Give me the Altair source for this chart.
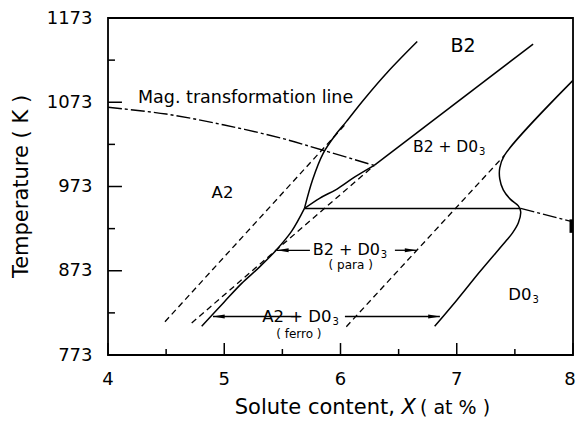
import altair as alt
import pandas as pd

FONT = "DejaVu Sans"

# ---- axis ticks ----
x_major = [4, 5, 6, 7, 8]
y_major = [773, 873, 973, 1073, 1173]
x_minor = [4.5, 5.5, 6.5, 7.5]
y_minor = [823, 923, 1023, 1123]

# ---- solid phase boundaries (x = at %, T = K) ----
a2_upper_x = [5.69, 5.76, 5.85, 5.95, 6.05, 6.20, 6.40, 6.66]
a2_upper_t = [947, 981, 1012, 1033, 1050, 1076, 1108, 1145]

mid_curve_x = [5.69, 5.82, 5.97, 6.12, 6.29]
mid_curve_t = [947, 959, 970, 984, 998]

b2_line_x = [6.29, 7.657]
b2_line_t = [998, 1142]

horiz_x = [5.69, 7.55]
horiz_t = [947, 947]

a2_lower_x = [4.806, 5.0, 5.15, 5.30, 5.45, 5.58, 5.69]
a2_lower_t = [807, 836, 858, 877, 898, 920, 947]

d03_x = [8.0, 7.41, 7.37, 7.37, 7.40, 7.46, 7.53, 7.55, 7.53, 7.48, 7.43, 7.20, 7.00, 6.81]
d03_t = [1099, 1010, 995, 982, 969, 958, 950, 943, 930, 918, 909.5, 872, 838, 807]

# ---- dashed lines ----
dash1_x = [4.49, 6.05]
dash1_t = [812.5, 1048]
dash2_x = [4.72, 6.29]
dash2_t = [811, 998]
dash3_x = [6.05, 7.41]
dash3_t = [806.6, 1010]

# ---- magnetic transformation line (dash-dot) ----
mag_left_x = [4.0, 4.5, 5.0, 5.5, 5.85, 6.29]
mag_left_t = [1067, 1059, 1046, 1030, 1016, 998]
mag_right_x = [7.55, 8.0]
mag_right_t = [947, 931]

# small thick bar on right axis
bar_x = [7.985]
bar_t1 = [918]
bar_t2 = [934]

# ---- arrows ----
arrow_tail = [5.737, 6.468, 5.651, 6.038]
arrow_tip = [5.453, 6.654, 4.903, 6.855]
arrow_t = [897.3, 897.3, 818.7, 818.7]

# ---- labels ----
lab_center_text = ["B2", "A2", "( para )", "( ferro )"]
lab_center_x = [7.055, 4.985, 6.088, 5.642]
lab_center_t = [1133, 959, 875.3, 792.8]
lab_center_size = [19, 16.5, 12, 12]

lab_right_text = ["B2 + D0", "B2 + D0", "A2 + D0", "D0"]
lab_right_x = [7.184, 6.339, 5.923, 7.643]
lab_right_t = [1014.3, 892.2, 812.5, 838.3]
lab_right_size = [15.5, 16, 16.5, 16.5]

lab_sub_text = ["3", "3", "3", "3"]
lab_sub_x = [7.192, 6.347, 5.931, 7.651]
lab_sub_t = [1010.5, 888.6, 808.7, 834.5]

lab_left_text = ["Mag. transformation line"]
lab_left_x = [4.258]
lab_left_t = [1072.1]
lab_left_size = [17.5]

x_tick_text = ["4", "5", "6", "7", "8"]
x_tick_label_t = 736.8  # baseline of x tick labels, below the axis

XS = alt.Scale(domain=[4, 8], nice=False, zero=False)
YS = alt.Scale(domain=[773, 1173], nice=False, zero=False)


def curves(named):
    rows = []
    for name, (xs, ts) in named.items():
        for i, (x, t) in enumerate(zip(xs, ts)):
            rows.append({"curve": name, "i": i, "x": x, "t": t})
    return pd.DataFrame(rows)


solid_df = curves({
    "a2u": (a2_upper_x, a2_upper_t),
    "mid": (mid_curve_x, mid_curve_t),
    "b2": (b2_line_x, b2_line_t),
    "hor": (horiz_x, horiz_t),
    "a2l": (a2_lower_x, a2_lower_t),
    "d03": (d03_x, d03_t),
})
dash_df = curves({
    "d1": (dash1_x, dash1_t),
    "d2": (dash2_x, dash2_t),
    "d3": (dash3_x, dash3_t),
})
mag_df = curves({
    "ml": (mag_left_x, mag_left_t),
    "mr": (mag_right_x, mag_right_t),
})

x_axis = alt.Axis(values=x_major, ticks=False, tickSize=0, domain=False, grid=False,
                  labels=False, title=None)
y_axis = alt.Axis(values=y_major, ticks=False, tickSize=0, domain=False, grid=False,
                  labelFont=FONT, labelFontSize=18, labelColor="black", labelFlush=False,
                  labelPadding=16, title=None, format="d")


def line_layer(df, dash=None, sw=1.5):
    kw = dict(color="black", strokeWidth=sw, clip=True, interpolate="catmull-rom")
    if dash:
        kw["strokeDash"] = dash
    return alt.Chart(df).mark_line(**kw).encode(
        x=alt.X("x:Q", scale=XS, axis=x_axis),
        y=alt.Y("t:Q", scale=YS, axis=y_axis),
        detail="curve:N",
        order="i:Q",
    )


solid = line_layer(solid_df, sw=1.5)
dashed = line_layer(dash_df, dash=[6, 4], sw=1.3)
magl = line_layer(mag_df, dash=[14, 3, 3, 3], sw=1.4)

bar = alt.Chart(pd.DataFrame({"x": bar_x, "t1": bar_t1, "t2": bar_t2})).mark_rule(
    color="black", strokeWidth=3.5).encode(x="x:Q", y="t1:Q", y2="t2:Q")

# plot frame (box around the plot area)
frame = alt.Chart(pd.DataFrame({"x1": [4], "x2": [8], "t1": [773], "t2": [1173]})).mark_rect(
    fill=None, fillOpacity=0, stroke="black", strokeWidth=1.8).encode(
    x="x1:Q", x2="x2:Q", y="t1:Q", y2="t2:Q")

# inward ticks
xt = pd.DataFrame({"x": x_major + x_minor,
                   "t1": [773] * 9,
                   "t2": [773 + 14.2] * 5 + [773 + 7.1] * 4})
yt = pd.DataFrame({"t": y_major + y_minor,
                   "x1": [4] * 9,
                   "x2": [4 + 0.12] * 5 + [4 + 0.06] * 4})
xticks = alt.Chart(xt).mark_rule(color="black", strokeWidth=1.5).encode(
    x="x:Q", y="t1:Q", y2="t2:Q")
yticks = alt.Chart(yt).mark_rule(color="black", strokeWidth=1.5).encode(
    y="t:Q", x="x1:Q", x2="x2:Q")

# x tick labels (last one nudged so it stays inside the page)
xl = pd.DataFrame({"x": x_major, "text": x_tick_text, "t": [x_tick_label_t] * 5})
xlabels_a = alt.Chart(xl.iloc[:4]).mark_text(font=FONT, fontSize=18, color="black",
                                             align="center", baseline="alphabetic").encode(
    x="x:Q", y="t:Q", text="text:N")
xlabels_b = alt.Chart(xl.iloc[4:]).mark_text(font=FONT, fontSize=18, color="black",
                                             align="center", baseline="alphabetic",
                                             dx=-3).encode(
    x="x:Q", y="t:Q", text="text:N")

# arrows
arr = pd.DataFrame({"tail": arrow_tail, "tip": arrow_tip, "t": arrow_t})
arr["dir"] = (arr["tip"] - arr["tail"]).apply(lambda d: 1 if d > 0 else -1)
arr["head"] = arr["tip"] - arr["dir"] * 0.05
shafts = alt.Chart(arr).mark_rule(color="black", strokeWidth=1.3).encode(
    x="tail:Q", x2="tip:Q", y="t:Q")
heads_r = alt.Chart(arr[arr["dir"] > 0]).mark_point(
    shape="M1,0L-1,-0.33L-1,0.33Z", filled=True, color="black", size=140, opacity=1
).encode(x="head:Q", y="t:Q")
heads_l = alt.Chart(arr[arr["dir"] < 0]).mark_point(
    shape="M-1,0L1,-0.33L1,0.33Z", filled=True, color="black", size=140, opacity=1
).encode(x="head:Q", y="t:Q")


def text_layer(texts, xs, ts, sizes, align):
    df = pd.DataFrame({"text": texts, "x": xs, "t": ts, "s": sizes})
    return alt.Chart(df).mark_text(align=align, baseline="alphabetic", font=FONT,
                                   color="black").encode(
        x="x:Q", y="t:Q", text="text:N", size=alt.Size("s:Q", scale=None, legend=None))


t_center = text_layer(lab_center_text, lab_center_x, lab_center_t, lab_center_size, "center")
t_right = text_layer(lab_right_text, lab_right_x, lab_right_t, lab_right_size, "right")
t_sub = text_layer(lab_sub_text, lab_sub_x, lab_sub_t, [10] * 4, "left")
t_left = text_layer(lab_left_text, lab_left_x, lab_left_t, lab_left_size, "left")

one = pd.DataFrame({"a": [0]})
ytitle = alt.Chart(one).mark_text(text="Temperature ( K )", font=FONT, fontSize=21,
                                  angle=270, align="center", baseline="middle",
                                  color="black").encode(
    x=alt.value(-86.5), y=alt.value(168.5))
xt1 = alt.Chart(one).mark_text(text="Solute content,", font=FONT, fontSize=21,
                               align="right", baseline="alphabetic", color="black").encode(
    x=alt.value(287), y=alt.value(396))
xt2 = alt.Chart(one).mark_text(text="X", font=FONT, fontSize=21, fontStyle="italic",
                               align="left", baseline="alphabetic", color="black").encode(
    x=alt.value(293.5), y=alt.value(396))
xt3 = alt.Chart(one).mark_text(text="( at % )", font=FONT, fontSize=19,
                               align="left", baseline="alphabetic", color="black").encode(
    x=alt.value(312), y=alt.value(396))

chart = alt.layer(
    solid, dashed, magl, bar, frame, xticks, yticks, xlabels_a, xlabels_b,
    shafts, heads_r, heads_l,
    t_center, t_right, t_sub, t_left, ytitle, xt1, xt2, xt3
).properties(
    width=465, height=337,
    autosize=alt.AutoSizeParams(type="none"),
    padding={"left": 100, "top": 10, "right": 3, "bottom": 66},
).configure_view(
    stroke=None
).configure(background="white")

chart.save("out.html", embed_options={"renderer": "svg", "actions": False})
